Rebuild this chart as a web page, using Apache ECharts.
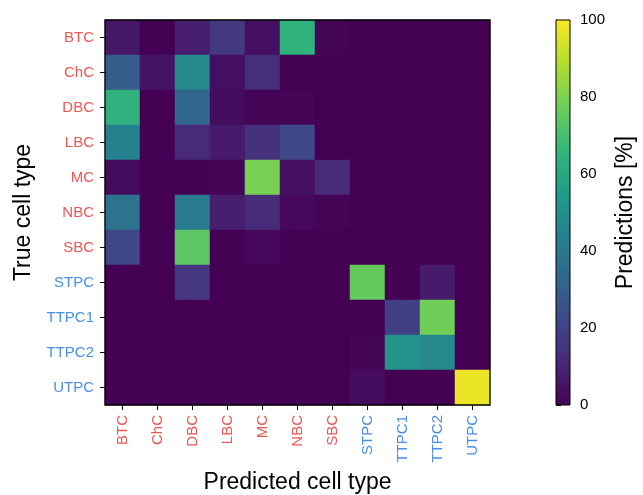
<!DOCTYPE html>
<html>
<head>
<meta charset="utf-8">
<script src="https://cdn.jsdelivr.net/npm/echarts@6/dist/echarts.min.js"></script>
<style>
  html, body { margin: 0; padding: 0; background: #fff; }
  #chart { width: 643px; height: 495px; }
</style>
</head>
<body>
<div id="chart"></div>
<script>
// cell types (rows = true, columns = predicted)
const cellTypes = ['BTC', 'ChC', 'DBC', 'LBC', 'MC', 'NBC', 'SBC', 'STPC', 'TTPC1', 'TTPC2', 'UTPC']
const inhibitory = ['BTC', 'ChC', 'DBC', 'LBC', 'MC', 'NBC', 'SBC']

// predictions in percent, one row per true cell type
const rowBTC = [6, 0, 8, 17, 4, 64, 1, 0, 0, 0, 0]
const rowChC = [29, 5, 47, 4, 13, 0, 0, 0, 0, 0, 0]
const rowDBC = [64, 0, 33, 3, 1, 1, 0, 0, 0, 0, 0]
const rowLBC = [44, 0, 12, 7, 14, 22, 0, 0, 0, 0, 0]
const rowMC = [3, 0, 0, 1, 79, 4, 12, 0, 0, 0, 0]
const rowNBC = [38, 0, 41, 8, 12, 2, 1, 0, 0, 0, 0]
const rowSBC = [22, 0, 74, 0, 2, 0, 0, 0, 0, 0, 0]
const rowSTPC = [0, 0, 16, 0, 0, 0, 0, 76, 0, 7, 0]
const rowTTPC1 = [0, 0, 0, 0, 0, 0, 0, 0, 19, 78, 0]
const rowTTPC2 = [0, 0, 0, 0, 0, 0, 0, 1, 51, 47, 0]
const rowUTPC = [0, 0, 0, 0, 0, 0, 0, 3, 0, 0, 97]
const rows = [rowBTC, rowChC, rowDBC, rowLBC, rowMC, rowNBC, rowSBC, rowSTPC, rowTTPC1, rowTTPC2, rowUTPC]

const colorbarTicks = [0, 20, 40, 60, 80, 100]

const viridis = ['#440154', '#482878', '#3e4989', '#31688e', '#26828e', '#1f9e89',
  '#35b779', '#6ece58', '#b5de2b', '#fde725']

const red = '#ee5555'
const blue = '#4a8fe7'
const labelColor = (v) => (inhibitory.indexOf(v) >= 0 ? red : blue)

const data = []
rows.forEach((row, i) => {
  row.forEach((v, j) => {
    data.push([j, i, v])
  })
})

const chart = echarts.init(document.getElementById('chart'))

chart.setOption({
  animation: false,
  textStyle: { fontFamily: 'Liberation Sans, Arial, sans-serif' },
  grid: [
    { left: 105, top: 20, width: 385, height: 385, outerBoundsMode: 'none', containLabel: false, show: true, borderColor: '#000', borderWidth: 1.3, backgroundColor: 'transparent', z: 5 },
    { left: 556, top: 20, width: 14, height: 385, outerBoundsMode: 'none', containLabel: false }
  ],
  xAxis: [
    {
      type: 'category',
      gridIndex: 0,
      data: cellTypes,
      name: 'Predicted cell type',
      nameLocation: 'middle',
      nameGap: 66,
      nameTextStyle: { fontSize: 23, color: '#000' },
      axisLine: { show: false },
      axisTick: { show: true, alignWithLabel: true, length: 5, lineStyle: { color: '#000' } },
      axisLabel: { rotate: 90, fontSize: 15, margin: 10, interval: 0, color: labelColor },
      splitLine: { show: false }
    },
    { type: 'value', gridIndex: 1, show: false, min: 0, max: 1 }
  ],
  yAxis: [
    {
      type: 'category',
      gridIndex: 0,
      data: cellTypes,
      inverse: true,
      name: 'True cell type',
      nameLocation: 'middle',
      nameGap: 70,
      nameRotate: 90,
      nameTextStyle: { fontSize: 23, color: '#000' },
      axisLine: { show: false },
      axisTick: { show: true, alignWithLabel: true, length: 5, lineStyle: { color: '#000' } },
      axisLabel: { fontSize: 15, margin: 11, interval: 0, color: labelColor },
      splitLine: { show: false }
    },
    {
      type: 'value',
      gridIndex: 1,
      position: 'right',
      min: 0,
      max: 100,
      interval: 20,
      name: 'Predictions [%]',
      nameLocation: 'middle',
      nameGap: 44,
      nameRotate: 90,
      nameTextStyle: { fontSize: 23, color: '#000' },
      axisLine: { show: true, lineStyle: { color: '#000', width: 1 } },
      axisTick: { show: true, length: 5, lineStyle: { color: '#000' } },
      axisLabel: { fontSize: 15, color: '#000', margin: 10, formatter: (v) => (colorbarTicks.indexOf(v) >= 0 ? v : '') },
      splitLine: { show: false }
    }
  ],
  visualMap: {
    show: false,
    type: 'continuous',
    min: 0,
    max: 100,
    seriesIndex: 0,
    inRange: { color: viridis }
  },
  graphic: [
    {
      type: 'rect',
      shape: { x: 556, y: 20, width: 14, height: 385 },
      style: {
        fill: new echarts.graphic.LinearGradient(0, 1, 0, 0, viridis.map((c, i) => ({ offset: i / (viridis.length - 1), color: c }))),
        stroke: '#000',
        lineWidth: 1
      },
      z: 1
    }
  ],
  series: [
    {
      type: 'heatmap',
      xAxisIndex: 0,
      yAxisIndex: 0,
      data: data,
      itemStyle: { borderWidth: 0 },
      emphasis: { disabled: true }
    }
  ]
})
</script>
</body>
</html>
